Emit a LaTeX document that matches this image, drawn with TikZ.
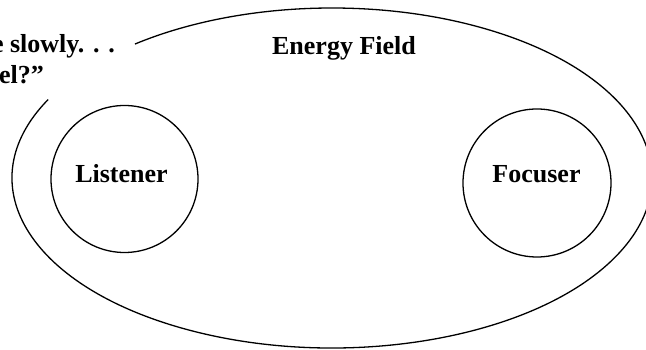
\documentclass[tikz,border=0pt]{standalone}
\usepackage{fontspec}
\setmainfont{Liberation Serif}
\begin{document}
\begin{tikzpicture}[x=1pt,y=1pt,
  lbl/.style={font=\fontsize{26}{30}\selectfont\bfseries, inner sep=0pt},
  ring/.style={draw, circle, line width=1.3pt, inner sep=0pt},
  field/.style={draw, line width=1.3pt}]
\useasboundingbox (0,0) rectangle (646,350);
\clip (0,0) rectangle (646,350);
% energy field (open ellipse)
\coordinate (fc) at (332,172);
\draw[field] ([shift={(fc)}]152.5:320 and 170) arc[start angle=152.5, end angle=488, x radius=320pt, y radius=170pt];
% circles
\node[ring, minimum size=147pt] (listener) at (124.5,171) {};
\node[ring, minimum size=148pt] (focuser) at (537,167) {};
% texts
\node[lbl, anchor=base] (lt) at (121.5,167) {Listener};
\node[lbl, anchor=base] (ft) at (536.5,167) {Focuser};
\node[lbl, anchor=base] (ef) at (344,295) {Energy Field};
\node[lbl, anchor=base east] (q1) at (115,297) {e slowly. . .};
\node[lbl, anchor=base east] (q2) at (44,266) {el?”};
\end{tikzpicture}
\end{document}
